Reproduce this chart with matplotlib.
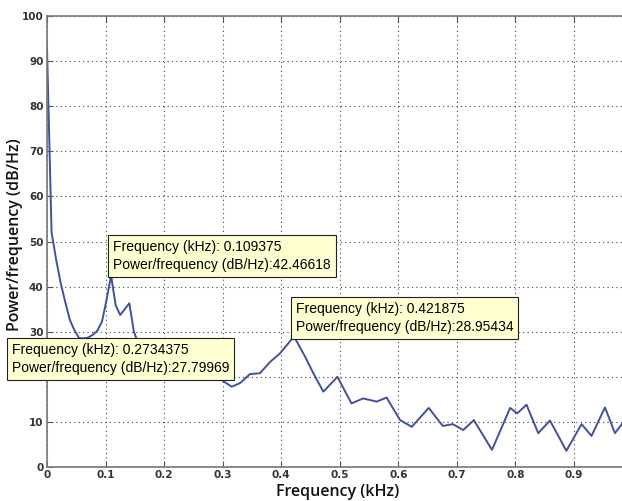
import matplotlib
matplotlib.use('Agg')
import matplotlib.pyplot as plt

# spectrum (kHz, dB/Hz)
freq = [0.0, 0.0078, 0.0156, 0.0234, 0.0313, 0.0391, 0.0469, 0.0547, 0.0625,
        0.0703, 0.0781, 0.0859, 0.0938, 0.1016, 0.109375, 0.1172, 0.125,
        0.1328, 0.1406, 0.1484, 0.16, 0.18, 0.2, 0.22, 0.24, 0.2578,
        0.2734375, 0.289, 0.298, 0.3155, 0.3296, 0.3467, 0.3638, 0.381,
        0.398, 0.421875, 0.4407, 0.4549, 0.472, 0.496, 0.52, 0.54, 0.563,
        0.58, 0.603, 0.623, 0.652, 0.676, 0.693, 0.711, 0.729, 0.76, 0.791,
        0.803, 0.819, 0.839, 0.859, 0.887, 0.913, 0.93, 0.953, 0.97, 0.983,
        1.0]
power = [93, 52, 46, 40.8, 36.5, 32.6, 30.3, 28.6, 28.5,
         28.7, 29.3, 30.2, 32.2, 37, 42.46618, 35.9, 33.7,
         35, 36.3, 30, 26, 23, 22, 23, 25, 27,
         27.79969, 23, 19.3, 17.8, 18.6, 20.6, 20.8, 23.3,
         25.2, 28.95434, 24.5, 20.8, 16.7, 20.0, 14.1, 15.2, 14.5,
         15.4, 10.4, 8.9, 13.1, 9.1, 9.5, 8.2, 10.4, 3.8, 13.1,
         11.9, 13.8, 7.5, 10.3, 3.6, 9.5, 6.9, 13.2, 7.5, 9.7,
         11]

tips = [(0.109375, 42.46618), (0.421875, 28.95434), (0.2734375, 27.79969)]

fig = plt.figure(figsize=(6.22, 5.01), dpi=100)
ax = fig.add_axes([47/622, 34/501, 585.5/622, 451/501])

ax.plot(freq, power, color='#4150a0', lw=1.4)
ax.set_xlim(0, 1)
ax.set_ylim(0, 100)
ax.set_xticks([0, 0.1, 0.2, 0.3, 0.4, 0.5, 0.6, 0.7, 0.8, 0.9])
ax.set_xticklabels(['0', '0.1', '0.2', '0.3', '0.4', '0.5', '0.6', '0.7', '0.8', '0.9'])
ax.set_yticks(range(0, 101, 10))
ax.grid(True, linestyle=(0, (1, 3)), color='#444444', lw=0.8)
ax.tick_params(direction='in', length=4, top=True, right=True, color='#555555',
               labelsize=7.5, labelcolor='#333333', pad=2.5)
for lab in ax.get_xticklabels() + ax.get_yticklabels():
    lab.set_fontweight('bold')
for s in ax.spines.values():
    s.set_color('#777777')
    s.set_linewidth(1.2)

ax.set_xlabel('Frequency (kHz)', fontsize=11.5, family='Open Sans', color='#111111',
              va='baseline', fontweight='semibold')
ax.xaxis.set_label_coords(0.497, -0.064)
ax.set_ylabel('Power/frequency (dB/Hz)', fontsize=11.5, family='Open Sans', color='#111111',
              fontweight='semibold')
ax.yaxis.set_label_coords(-0.041, 0.515)

box = dict(boxstyle='square,pad=0.35', fc='#ffffd2', ec='#222222', lw=0.8)
for f, p in tips:
    ax.plot(f, p, 's', color='black', ms=2.5)
txt = 'Frequency (kHz): %s\nPower/frequency (dB/Hz):%s'
ax.annotate(txt % ('0.109375', '42.46618'), xy=tips[0], xytext=(2, 3),
            textcoords='offset pixels', ha='left', va='bottom', fontsize=10,
            family='Liberation Sans', bbox=box, linespacing=1.4)
ax.annotate(txt % ('0.421875', '28.95434'), xy=tips[1], xytext=(2, 2),
            textcoords='offset pixels', ha='left', va='bottom', fontsize=10,
            family='Liberation Sans', bbox=box, linespacing=1.4)
ax.annotate(txt % ('0.2734375', '27.79969'), xy=tips[2], xytext=(-195, -1),
            textcoords='offset pixels', ha='left', va='top', fontsize=10,
            family='Liberation Sans', bbox=box, linespacing=1.4)

fig.savefig('out.png', dpi=100)
